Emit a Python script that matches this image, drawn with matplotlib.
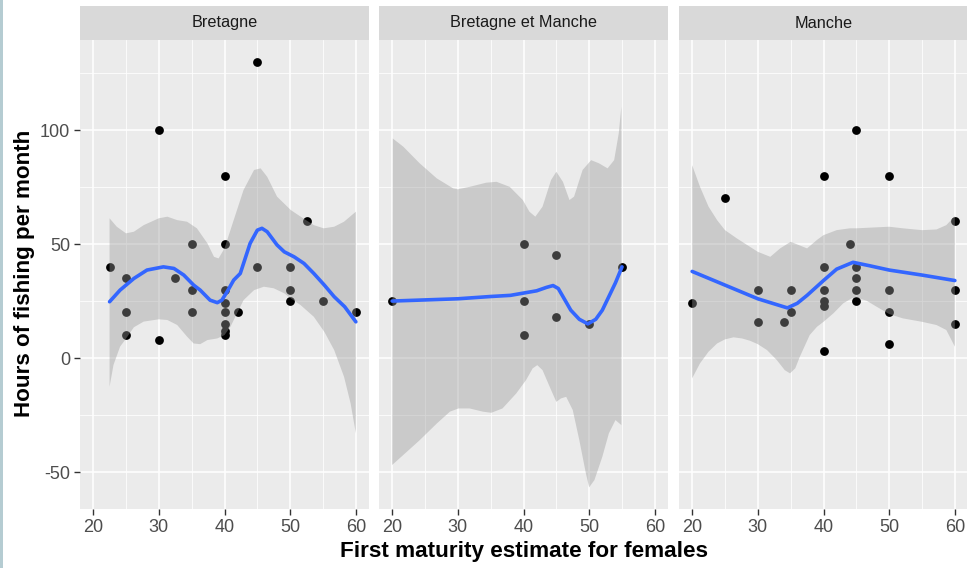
import matplotlib
matplotlib.use("Agg")
import matplotlib.pyplot as plt
from matplotlib.patches import Rectangle

plt.rcParams['font.family'] = ['Liberation Sans', 'DejaVu Sans']
plt.rcParams['axes.unicode_minus'] = False

panels = ["Bretagne", "Bretagne et Manche", "Manche"]

# ---- points ----
bre_x = [22.5, 25, 25, 25, 30, 30, 32.5, 35, 35, 35, 40, 40, 40, 40, 40, 40, 40, 40,
         42, 45, 45, 50, 50, 50, 52.5, 55, 60]
bre_y = [40, 35, 20, 10, 100, 8, 35, 50, 30, 20, 80, 50, 30, 24, 20, 15, 12, 10,
         20, 130, 40, 40, 30, 25, 60, 25, 20]
bm_x = [20, 40, 40, 40, 45, 45, 50, 55]
bm_y = [25, 50, 25, 10, 45, 18, 15, 40]
man_x = [20, 25, 30, 30, 34, 35, 35, 40, 40, 40, 40, 40, 40, 44, 45, 45, 45, 45, 45,
         50, 50, 50, 50, 60, 60, 60]
man_y = [24, 70, 30, 16, 16, 30, 20, 80, 40, 30, 25, 23, 3, 50, 100, 40, 35, 30, 25,
         80, 30, 20, 6, 60, 30, 15]

# ---- smooth curves ----
bre_lx = [22.5, 24.1, 26.2, 28.2, 30.7, 32.3, 33.8, 35.3, 36.3, 37.8, 38.9, 39.6, 40.4,
          41.4, 42.4, 43.9, 45.0, 45.7, 46.5, 48.0, 49.1, 50.6, 52.1, 53.6, 55.2, 56.7,
          58.3, 60]
bre_ly = [24.7, 29.8, 34.9, 38.6, 40.0, 39.3, 36.4, 32.0, 29.8, 25.4, 24.3, 25.4, 29.1,
          34.2, 37.1, 50.3, 56.1, 56.9, 55.4, 49.6, 46.6, 44.4, 41.5, 37.1, 32.0, 26.9,
          22.5, 15.9]
bre_ux = [22.5, 23.6, 25.0, 26.2, 27.7, 30.0, 31.3, 32.8, 34.3, 35.8, 37.4, 38.4, 39.1,
          40.0, 41.4, 42.9, 44.5, 45.5, 46.5, 48.0, 50.1, 51.6, 53.6, 55.1, 56.7, 58.2, 60]
bre_uy = [61.3, 57.6, 54.7, 55.4, 58.3, 61.3, 62.0, 60.5, 59.8, 56.9, 50.3, 44.4, 43.7,
          48.1, 60.5, 73.7, 82.5, 83.2, 79.5, 70.8, 64.9, 62.0, 58.3, 56.9, 57.6, 59.8, 64.2]
bre_dx = [22.5, 23.1, 24.1, 25.0, 26.2, 27.7, 30.0, 31.3, 32.8, 34.3, 35.3, 36.3, 37.4,
          38.9, 40.0, 40.9, 41.9, 42.9, 44.5, 46.0, 47.5, 49.1, 50.1, 51.6, 53.6, 55.2,
          56.7, 58.2, 59.2, 60]
bre_dy = [-12.6, -3.0, 5.0, 8.5, 13.5, 16.0, 17.0, 16.7, 14.5, 9.4, 6.4, 6.1, 7.9, 8.6,
          10.1, 13.7, 19.6, 25.4, 29.8, 31.3, 30.6, 28.4, 26.2, 23.2, 18.1, 11.5, 3.5,
          -8.2, -19.9, -33.0]

bm_lx = [20, 25, 30, 35, 38, 40, 42, 43.5, 44.5, 45.3, 46.2, 47.2, 48.5, 49.8, 51, 52,
         53, 54, 55]
bm_ly = [25, 25.5, 26, 27, 27.5, 28.5, 29.5, 31, 31.8, 30.5, 26, 21, 17, 15, 17, 21, 27,
         33, 40]
bm_ux = [20.1, 21.7, 24.2, 26.8, 29.3, 30.0, 31.8, 34.3, 35.9, 37.9, 39.9, 40.9, 41.8,
         42.9, 44.2, 45.0, 46.0, 47.0, 47.7, 49.0, 50.3, 51.5, 52.8, 53.8, 54.5, 54.9]
bm_uy = [96.3, 92.7, 85.4, 78.8, 74.4, 74.0, 75.1, 76.9, 77.3, 75.1, 69.3, 64.2, 62.0,
         66.4, 78.1, 81.7, 77.3, 69.3, 70.8, 82.5, 86.8, 85.4, 83.2, 86.8, 98.5, 110.2]
bm_dx = [20.0, 21.7, 24.2, 26.8, 28.8, 30.1, 31.8, 33.8, 35.1, 36.8, 38.9, 40.4, 41.4,
         42.1, 42.9, 44.2, 45.0, 45.7, 46.5, 47.5, 48.5, 49.5, 50.0, 50.8, 52.0, 53.0,
         54.0, 54.9]
bm_dy = [-46.9, -42.5, -36.0, -28.7, -23.5, -22.1, -22.1, -23.5, -24.0, -22.1, -15.5,
         -9.6, -4.5, -3.1, -5.3, -14.0, -19.2, -17.7, -17.0, -22.8, -36.0, -50.6, -56.7,
         -53.5, -43.3, -33.0, -27.2, -29.4]

man_lx = [20, 25, 30, 34.5, 36, 37.5, 40, 42, 44.5, 47, 50, 55, 60]
man_ly = [38, 32, 26, 22, 24, 27.5, 34, 39, 42, 40.5, 38.6, 36.4, 34]
man_ux = [20.0, 21.2, 22.5, 23.8, 25.0, 26.8, 28.8, 30.0, 31.9, 33.4, 35.0, 36.2, 37.5,
          39.0, 40.0, 42.0, 44.0, 45.0, 47.1, 50.0, 52.1, 55.0, 57.2, 58.7, 60.0]
man_uy = [84.6, 75.1, 66.4, 60.5, 56.1, 52.5, 48.8, 46.6, 44.4, 48.1, 51.0, 49.6, 48.1,
          51.8, 53.9, 56.1, 56.9, 56.9, 57.2, 57.6, 56.9, 56.1, 56.4, 58.3, 62.3]
man_dx = [20.0, 21.2, 22.5, 23.8, 25.0, 26.3, 27.6, 28.8, 30.0, 31.4, 32.9, 34.1, 34.9,
          35.7, 36.4, 37.9, 39.0, 40.0, 41.5, 43.0, 44.3, 45.0, 46.6, 48.1, 50.0, 52.1,
          55.0, 57.2, 58.7, 60.0]
man_dy = [-8.9, -2.3, 2.8, 6.4, 8.2, 9.1, 8.6, 7.6, 6.1, 3.5, -0.9, -5.3, -6.7, -4.5, 0.6,
          10.1, 13.7, 15.9, 19.6, 24.0, 26.2, 26.6, 25.1, 22.5, 19.3, 17.4, 15.9, 14.5,
          12.3, 5.0]

xticks = [20, 30, 40, 50, 60]
yticks = [-50, 0, 50, 100]

data = [
    (bre_x, bre_y, bre_lx, bre_ly, bre_ux, bre_uy, bre_dx, bre_dy),
    (bm_x, bm_y, bm_lx, bm_ly, bm_ux, bm_uy, bm_dx, bm_dy),
    (man_x, man_y, man_lx, man_ly, man_ux, man_uy, man_dx, man_dy),
]

W, H = 967, 568
fig = plt.figure(figsize=(W / 100, H / 100), dpi=100)
fig.patch.set_facecolor("white")
fig.patches.append(Rectangle((0, 0), 2.5 / W, 1, transform=fig.transFigure,
                             facecolor="#b5ccd2", edgecolor="none"))

lefts = [80, 379, 679]
pw = 289
bottom, top = 509, 40
strip_top = 6

for i, (ax_left, name, d) in enumerate(zip(lefts, panels, data)):
    px, py, lx, ly, ux, uy, dx, dy = d
    ax = fig.add_axes([ax_left / W, (H - bottom) / H, pw / W, (bottom - top) / H])
    ax.set_facecolor("#ebebeb")
    ax.set_xlim(18, 62)
    ax.set_ylim(-66.2, 139.5)
    ax.set_xticks(xticks)
    ax.set_xticks([25, 35, 45, 55], minor=True)
    ax.set_yticks(yticks)
    ax.set_yticks([-25, 25, 75, 125], minor=True)
    ax.grid(True, which="major", color="white", lw=1.1)
    ax.grid(True, which="minor", color="white", lw=0.55)
    ax.set_axisbelow(True)
    for s in ax.spines.values():
        s.set_visible(False)
    ax.tick_params(which="major", length=4, width=1, color="#333333",
                   labelsize=13, labelcolor="#4d4d4d", pad=3)
    ax.tick_params(which="minor", length=0)
    if i > 0:
        ax.tick_params(axis="y", which="major", length=0, labelleft=False)
    ax.scatter(px, py, s=40, color="black", zorder=3, linewidths=0)
    ax.fill(list(ux) + list(dx)[::-1], list(uy) + list(dy)[::-1],
            color="#999999", alpha=0.4, lw=0, zorder=4)
    ax.plot(lx, ly, color="#3366ff", lw=2.6, zorder=5, solid_capstyle="round",
            solid_joinstyle="round")
    sh = (top - strip_top) / (bottom - top)
    ax.add_patch(Rectangle((0, 1), 1, sh, transform=ax.transAxes, facecolor="#d9d9d9",
                           edgecolor="none", clip_on=False))
    ax.text(0.5, 1 + sh / 2, name, transform=ax.transAxes, ha="center", va="center",
            fontsize=11.7, color="#1a1a1a")

fig.text((80 + 968) / 2 / W, 1 - 551 / H, "First maturity estimate for females",
         ha="center", va="center", fontsize=16.2, fontweight="bold", color="black")
fig.text(25 / W, 1 - 273 / H, "Hours of fishing per month", ha="center", va="center",
         rotation=90, fontsize=16.1, fontweight="bold", color="black")

fig.savefig("out.png", dpi=100)
